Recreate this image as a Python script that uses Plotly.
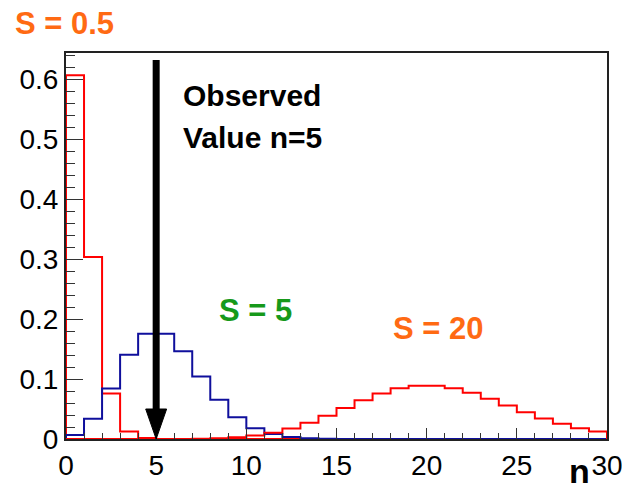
import plotly.graph_objects as go

# bin edges 0..30, width 1
bin_edges = list(range(0, 31))

# Poisson-like probabilities, one value per bin n = 0..29
p_s05 = [0.6065, 0.3033, 0.0758, 0.0126, 0.0016, 0.0002, 0, 0, 0, 0,
         0, 0, 0, 0, 0, 0, 0, 0, 0, 0,
         0, 0, 0, 0, 0, 0, 0, 0, 0, 0]
p_s5 = [0.0067, 0.0337, 0.0842, 0.1404, 0.1755, 0.1755, 0.1462, 0.1044, 0.0653, 0.0363,
        0.0181, 0.0082, 0.0034, 0.0013, 0.0005, 0.0002, 0.0001, 0, 0, 0,
        0, 0, 0, 0, 0, 0, 0, 0, 0, 0]
p_s20 = [0, 0, 0, 0, 0, 0.0001, 0.0002, 0.0005, 0.0013, 0.0029,
         0.0058, 0.0106, 0.0176, 0.0271, 0.0387, 0.0516, 0.0646, 0.0760, 0.0844, 0.0888,
         0.0888, 0.0846, 0.0769, 0.0669, 0.0557, 0.0446, 0.0343, 0.0254, 0.0181, 0.0125]

observed_n = 5

x_ticks = [0, 5, 10, 15, 20, 25, 30]
y_ticks = [0, 0.1, 0.2, 0.3, 0.4, 0.5, 0.6]
y_tick_text = ["0", "0.1", "0.2", "0.3", "0.4", "0.5", "0.6"]


def step_xy(edges, vals):
    xs = [edges[0]] + list(edges[:-1]) + [edges[-1], edges[-1]]
    ys = [0] + list(vals) + [vals[-1], 0]
    return xs, ys


series = [
    ("S = 0.5", p_s05, "#ff0000"),
    ("S = 5", p_s5, "#0f0f9c"),
    ("S = 20", p_s20, "#ff0000"),
]

fig = go.Figure()
for name, vals, col in series:
    xs, ys = step_xy(bin_edges, vals)
    fig.add_trace(go.Scatter(x=xs, y=ys, mode="lines", name=name,
                             line=dict(color=col, width=2, shape="hv"),
                             hoverinfo="skip", showlegend=False, cliponaxis=False))

# Observed value arrow
fig.add_shape(type="line", xref="x", yref="y",
              x0=observed_n, x1=observed_n, y0=0.632, y1=0.045,
              line=dict(color="black", width=7))
fig.add_shape(type="path", xref="x", yref="y",
              path=f"M {observed_n-0.58},0.05 L {observed_n+0.58},0.05 L {observed_n},0 Z",
              fillcolor="black", line=dict(color="black", width=1))

bold = "Liberation Sans"
orange = "#ff6a13"
green = "#16991a"
ann = [
    dict(text="<b>S = 0.5</b>", xref="paper", yref="paper", x=-0.096, y=1.0756,
         yanchor="middle", font=dict(size=31, color=orange, family=bold)),
    dict(text="<b>S = 5</b>", xref="x", yref="y", x=8.45, y=0.214,
         yanchor="middle", font=dict(size=31, color=green, family=bold)),
    dict(text="<b>S = 20</b>", xref="x", yref="y", x=18.1, y=0.185,
         yanchor="middle", font=dict(size=31, color=orange, family=bold)),
    dict(text="<b>Observed</b>", xref="x", yref="y", x=6.45, y=0.573,
         yanchor="middle", font=dict(size=30, color="black", family=bold)),
    dict(text="<b>Value n=5</b>", xref="x", yref="y", x=6.45, y=0.502,
         yanchor="middle", font=dict(size=30, color="black", family=bold)),
    dict(text="<b>n</b>", xref="paper", yref="paper", x=0.928, y=-0.135,
         yanchor="bottom", font=dict(size=34, color="black", family=bold)),
]
for a in ann:
    fig.add_annotation(showarrow=False, xanchor="left", borderpad=0, **a)

fig.update_layout(
    width=622, height=492,
    margin=dict(l=66, r=15, t=53, b=53, autoexpand=False),
    paper_bgcolor="white", plot_bgcolor="white",
    font=dict(family="Liberation Sans", size=28, color="black"),
)
fig.update_xaxes(range=[0, 30], tickvals=x_ticks, ticks="inside", ticklen=11,
                 tickwidth=1, tickcolor="#333", automargin=False, ticklabeloverflow="allow",
                 minor=dict(dtick=1, ticks="inside", ticklen=6, tickcolor="#333", tickwidth=1),
                 showgrid=False, zeroline=False, showline=True, linecolor="#222",
                 linewidth=2, mirror=True, tickfont=dict(size=28))
fig.update_yaxes(range=[0, 0.6435], tickvals=y_ticks, ticktext=y_tick_text,
                 ticks="inside", ticklen=17, tickwidth=1, tickcolor="#333", automargin=False,
                 ticklabeloverflow="allow",
                 minor=dict(dtick=0.02, ticks="inside", ticklen=9, tickcolor="#333", tickwidth=1),
                 showgrid=False, zeroline=False, showline=True, linecolor="#222",
                 linewidth=2, mirror=True, tickfont=dict(size=28))

fig.write_html("out.html", config={"displayModeBar": False},
               post_script="document.body.style.margin='0px';document.body.style.overflow='hidden';")
